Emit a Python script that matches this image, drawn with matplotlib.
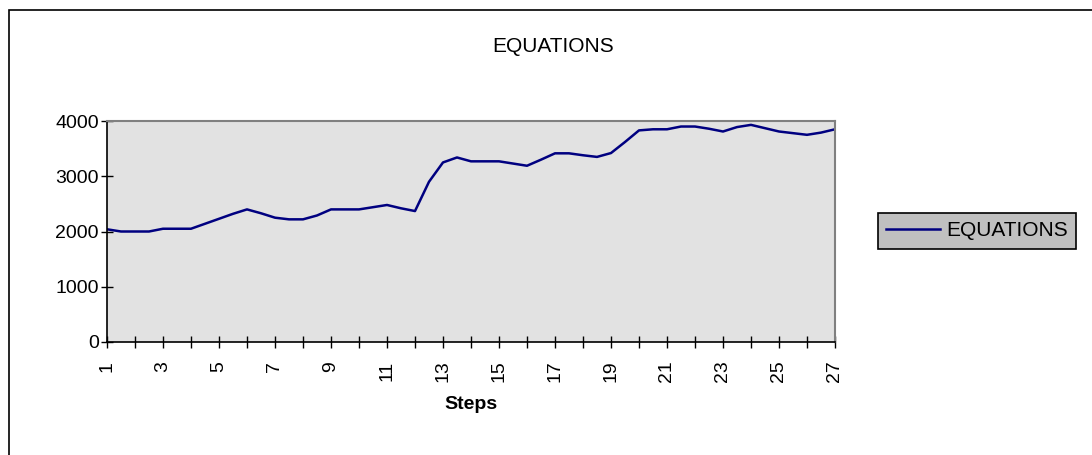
import matplotlib.pyplot as plt
from matplotlib.patches import Rectangle

# Step positions (half steps) and the EQUATIONS series
steps = [1, 1.5, 2, 2.5, 3, 3.5, 4, 4.5, 5, 5.5, 6, 6.5, 7, 7.5, 8, 8.5, 9, 9.5,
         10, 10.5, 11, 11.5, 12, 12.5, 13, 13.5, 14, 14.5, 15, 15.5, 16, 16.5,
         17, 17.5, 18, 18.5, 19, 19.5, 20, 20.5, 21, 21.5, 22, 22.5, 23, 23.5,
         24, 24.5, 25, 25.5, 26, 26.5, 27]
equations = [2040, 2000, 2000, 2000, 2050, 2050, 2050, 2140, 2230, 2320, 2400,
             2330, 2250, 2220, 2220, 2290, 2400, 2400, 2400, 2440, 2480, 2420,
             2370, 2900, 3250, 3340, 3270, 3270, 3270, 3230, 3190, 3300, 3415,
             3415, 3380, 3350, 3420, 3620, 3830, 3850, 3850, 3900, 3900, 3860,
             3810, 3890, 3930, 3870, 3810, 3780, 3750, 3790, 3850]

x_ticks = list(range(1, 28))
x_labels = [str(t) if t % 2 == 1 else '' for t in x_ticks]
y_ticks = [0, 1000, 2000, 3000, 4000]

plt.rcParams['font.family'] = ['Liberation Sans', 'DejaVu Sans']

W, H = 1092, 455
fig = plt.figure(figsize=(W / 100, H / 100), dpi=100)

# outer chart border
fig.patches.append(Rectangle((9 / W, -0.1), 1.2, 1 - 10 / H + 0.1,
                             transform=fig.transFigure, fill=False,
                             edgecolor='black', linewidth=1.2))

ax = fig.add_axes([107 / W, 1 - 342 / H, (835 - 107) / W, (342 - 121) / H])
ax.set_facecolor('#e2e2e2')
line, = ax.plot(steps, equations, color='#000080', linewidth=1.8, label='EQUATIONS')

ax.set_xlim(1, 27)
ax.set_ylim(0, 4000)
ax.set_xticks(x_ticks)
ax.set_xticklabels(x_labels, rotation=90, va='top', ha='center')
ax.set_yticks(y_ticks)
ax.tick_params(direction='inout', length=9, width=1, labelsize=14, color='black')
ax.tick_params(axis='y', pad=1.5)
ax.tick_params(axis='x', pad=9)

for side in ['top', 'right']:
    ax.spines[side].set_color('#808080')
    ax.spines[side].set_linewidth(1.5)
for side in ['left', 'bottom']:
    ax.spines[side].set_color('black')
    ax.spines[side].set_linewidth(1.2)

ax.set_xlabel('Steps', fontsize=14, fontweight='bold', labelpad=10)
fig.text(553 / W, 1 - 47 / H, 'EQUATIONS', ha='center', va='center', fontsize=15)

leg = fig.legend(handles=[line], loc='center', bbox_to_anchor=(977 / W, 1 - 231 / H),
                 fontsize=15, frameon=True, fancybox=False, framealpha=1,
                 facecolor='#c0c0c0', edgecolor='black', handlelength=2.6,
                 handletextpad=0.3, borderpad=0.4)
leg.get_frame().set_linewidth(1.2)

fig.savefig('out.png', dpi=100)
